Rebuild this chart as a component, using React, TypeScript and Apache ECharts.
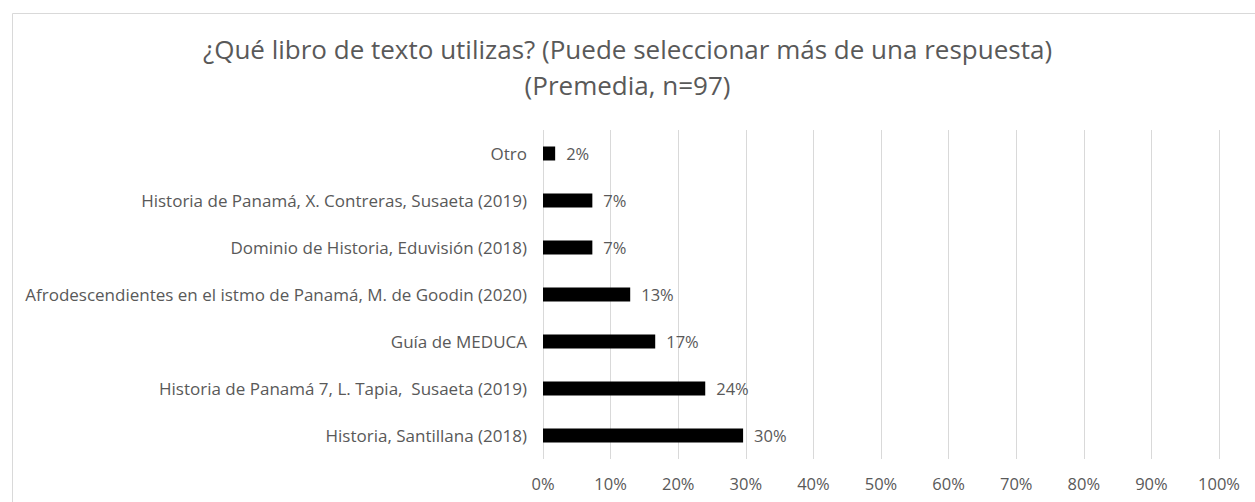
import React, { useEffect, useRef } from "react";
import * as echarts from "echarts";

const categories = [
  "Historia, Santillana (2018)",
  "Historia de Panamá 7, L. Tapia,  Susaeta (2019)",
  "Guía de MEDUCA",
  "Afrodescendientes en el istmo de Panamá, M. de Goodin (2020)",
  "Dominio de Historia, Eduvisión (2018)",
  "Historia de Panamá, X. Contreras, Susaeta (2019)",
  "Otro",
];
const values = [29.6, 24.0, 16.6, 12.9, 7.3, 7.3, 1.8];
const titleLines = [
  "¿Qué libro de texto utilizas? (Puede seleccionar más de una respuesta)",
  "(Premedia, n=97)",
];

const FONT = "'Open Sans', 'Liberation Sans', sans-serif";
const GRAY = "#595959";

export default function App() {
  const ref = useRef<HTMLDivElement>(null);
  useEffect(() => {
    if (!ref.current) return;
    const chart = echarts.init(ref.current, undefined, { renderer: "svg" });
    chart.setOption({
      animation: false,
      backgroundColor: "#ffffff",
      title: {
        text: titleLines.join("\n"),
        left: "center",
        top: 26,
        textStyle: {
          fontFamily: FONT,
          fontSize: 26,
          fontWeight: "normal",
          color: GRAY,
          lineHeight: 36,
        },
      },
      graphic: [
        {
          type: "rect",
          shape: { x: 12.5, y: 13.5, width: 1260, height: 500 },
          style: { fill: "none", stroke: "#d9d9d9", lineWidth: 1 },
          silent: true,
        },
      ],
      grid: { left: 543, right: 36, top: 130, bottom: 43, containLabel: false },
      xAxis: {
        type: "value",
        min: 0,
        max: 100,
        interval: 10,
        axisLine: { show: false },
        axisTick: { show: false },
        splitLine: { show: true, lineStyle: { color: "#d9d9d9", width: 1 } },
        axisLabel: {
          formatter: "{value}%",
          color: GRAY,
          fontFamily: FONT,
          fontSize: 16.5,
          margin: 16,
        },
      },
      yAxis: {
        type: "category",
        data: categories,
        axisLine: { show: false },
        axisTick: { show: false },
        axisLabel: {
          color: GRAY,
          fontFamily: FONT,
          fontSize: 17,
          margin: 16,
        },
      },
      series: [
        {
          type: "bar",
          data: values,
          barWidth: 14,
          itemStyle: { color: "#000000" },
          label: {
            show: true,
            position: "right",
            distance: 11,
            color: GRAY,
            fontFamily: FONT,
            fontSize: 16.5,
            formatter: (p: any) => Math.round(p.value) + "%",
          },
        },
      ],
    });
    return () => chart.dispose();
  }, []);
  return (
    <div
      ref={ref}
      style={{ position: "absolute", left: 0, top: 0, width: 1255, height: 502 }}
    />
  );
}
